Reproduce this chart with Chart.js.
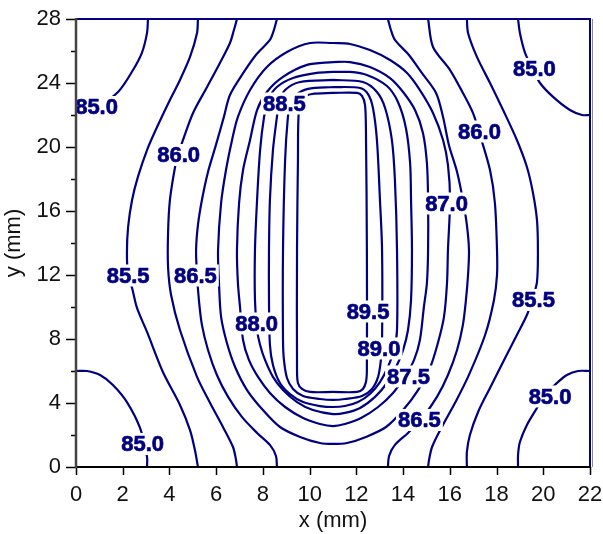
<!DOCTYPE html>
<html>
<head>
<meta charset="utf-8">
<script src="https://cdn.jsdelivr.net/npm/chart.js@4.4.0/dist/chart.umd.min.js"></script>
<style>
  html, body { margin: 0; padding: 0; background: #fff; }
</style>
</head>
<body>
<canvas id="contourChart" width="603" height="534"></canvas>
<script>
// contour lines, [x mm, y mm]
var c850a = [[3.08,28],[3.04,27.13],[2.82,25.88],[2.44,24.81],[1.80,23.44],[1.03,22.69],[0,22.31]];
var c850b = [[18.92,28],[19.0,27.13],[19.22,25.88],[19.52,24.94],[19.86,24.0],[20.42,23.13],[21.14,22.31],[21.66,22.0],[22,22.0]];
var c850c = [[0,6.0],[0.47,6.0],[1.03,5.75],[1.58,5.13],[2.18,4.06],[2.74,2.44],[3.04,0.63],[3.04,0]];
var c850d = [[22,6.0],[21.49,6.0],[21.01,5.75],[20.63,5.31],[20.07,4.5],[19.73,3.69],[19.30,2.63],[19.0,1.56],[18.92,0.75],[18.92,0]];
var c855L = [[5.22,28],[5.18,27.13],[4.88,25.63],[4.45,24.19],[4.02,22.94],[3.47,21.25],[3.04,19.81],[2.65,18.13],[2.40,16.69],[2.23,15.0],[2.18,13.38],[2.23,12.0],[2.40,11.19],[2.61,9.94],[3.04,8.44],[3.72,5.94],[4.45,3.88],[4.88,2.31],[5.09,1.06],[5.22,0]];
var c855R = [[16.73,28],[16.78,27.13],[17.16,25.63],[17.72,24.0],[18.28,22.31],[18.87,20.44],[19.30,18.75],[19.56,17.13],[19.73,15.44],[19.77,13.56],[19.73,11.56],[19.52,10.44],[19.30,9.5],[18.87,8.25],[18.28,6.56],[17.72,4.94],[17.21,3.44],[16.86,2.0],[16.73,0.94],[16.73,0]];
var c860L = [[6.89,28],[6.76,27.31],[6.59,26.5],[6.16,25.25],[5.61,23.75],[5.01,22.13],[4.58,20.44],[4.37,19.5],[4.24,18.75],[4.02,16.69],[3.94,14.63],[3.94,12.5],[4.07,10.75],[4.45,8.56],[5.18,5.63],[5.74,4.0],[6.29,2.5],[6.72,1.25],[6.85,0.44],[6.89,0]];
var c860R = [[15.07,28],[15.28,26.25],[16.01,24.81],[16.56,23.38],[16.99,22.13],[17.29,20.75],[17.72,18.56],[17.93,16.5],[18.02,13.56],[18.02,12.0],[17.89,10.44],[17.51,8.25],[16.78,5.63],[16.22,4.0],[15.66,2.5],[15.24,1.25],[15.11,0.44],[15.07,0]];
var c865L = [[8.60,28],[8.47,27.31],[8.30,26.69],[7.70,25.75],[7.19,24.69],[6.59,23.25],[6.33,21.88],[5.99,20.13],[5.65,18.44],[5.39,16.69],[5.22,15.13],[5.14,13.56],[5.18,12.0],[5.26,10.44],[5.39,8.88],[5.65,7.31],[6.03,5.75],[6.51,4.38],[7.10,3.13],[7.75,2.13],[8.30,1.38],[8.56,0.69],[8.60,0]];
var c865R = [[13.35,28],[13.48,27.31],[13.65,26.69],[14.25,25.75],[14.77,24.69],[15.41,23.38],[15.71,21.88],[15.96,20.13],[16.31,18.44],[16.56,16.69],[16.73,15.13],[16.82,13.56],[16.78,12.0],[16.69,10.44],[16.56,8.88],[16.31,7.31],[15.92,5.75],[15.45,4.38],[14.85,3.13],[14.21,2.13],[13.65,1.38],[13.40,0.69],[13.35,0]];
var c870 = [[11.0,26.5],[10.02,26.5],[9.03,25.94],[8.17,25.0],[7.45,23.56],[6.93,21.88],[6.68,20.44],[6.42,18.56],[6.21,16.5],[6.08,13.56],[6.12,11.5],[6.21,9.38],[6.46,7.75],[6.81,6.25],[7.32,4.81],[8.0,3.56],[8.73,2.5],[9.59,1.88],[10.44,1.5],[11.0,1.44],[11.60,1.5],[12.41,1.88],[13.27,2.5],[14.0,3.56],[14.64,4.81],[15.15,6.19],[15.49,7.75],[15.75,9.38],[15.88,11.5],[15.92,13.56],[16.01,16.69],[15.92,18.88],[15.71,20.44],[15.28,22.13],[14.72,23.56],[14.17,24.63],[13.44,25.44],[12.58,26.06],[11.73,26.44],[11.0,26.5]];
var c875 = [[11.0,25.31],[9.89,25.13],[8.86,24.38],[8.17,23.44],[7.75,22.31],[7.45,20.44],[7.15,18.56],[6.98,16.5],[6.89,13.56],[6.93,11.5],[7.02,10.0],[7.15,7.94],[7.40,6.69],[7.79,5.63],[8.30,4.63],[8.95,3.75],[9.72,3.06],[10.44,2.69],[11.0,2.56],[11.51,2.69],[12.20,3.06],[12.93,3.75],[13.57,4.63],[14.08,5.63],[14.47,6.69],[14.72,7.94],[14.89,10.0],[15.02,11.5],[15.07,13.56],[15.07,16.69],[15.02,19.0],[14.85,20.88],[14.51,22.31],[14.0,23.44],[13.44,24.31],[12.58,25.0],[11.73,25.31],[11.0,25.31]];
var c880 = [[11.0,24.69],[10.31,24.63],[9.29,24.31],[8.60,23.75],[8.22,22.94],[8.05,21.88],[7.88,19.81],[7.75,16.69],[7.66,13.56],[7.66,10.44],[7.75,8.56],[7.88,7.63],[8.09,6.69],[8.43,5.63],[8.86,4.81],[9.46,4.06],[10.14,3.56],[11.0,3.31],[11.51,3.38],[12.16,3.69],[12.80,4.38],[13.31,5.25],[13.70,6.25],[14.0,7.31],[14.21,8.56],[14.34,10.44],[14.38,13.56],[14.34,16.69],[14.30,19.0],[14.12,21.19],[13.78,22.81],[13.31,23.81],[12.45,24.5],[11.73,24.69],[11.0,24.69]];
var c885 = [[11.0,24.19],[9.59,24.06],[8.95,23.56],[8.69,22.81],[8.60,21.88],[8.43,19.81],[8.30,16.69],[8.26,13.56],[8.26,10.44],[8.30,7.63],[8.43,6.38],[8.73,5.25],[9.16,4.56],[9.72,4.06],[10.44,3.81],[11.0,3.75],[11.51,3.81],[12.07,4.06],[12.58,4.56],[13.01,5.31],[13.35,6.25],[13.61,7.31],[13.74,8.56],[13.74,13.56],[13.65,17.94],[13.52,20.44],[13.23,22.44],[12.88,23.44],[12.28,24.06],[11.0,24.19]];
var c890 = [[11.0,23.75],[9.93,23.63],[9.42,23.25],[9.16,22.56],[9.07,21.88],[8.95,19.19],[8.86,13.56],[8.86,7.94],[8.90,6.69],[9.03,5.56],[9.29,4.88],[9.72,4.44],[10.44,4.25],[11.0,4.19],[11.51,4.25],[12.24,4.44],[12.67,4.88],[12.93,5.63],[13.05,6.69],[13.10,7.94],[13.10,13.56],[13.01,16.69],[12.88,20.44],[12.71,22.44],[12.50,23.31],[12.16,23.69],[11.0,23.75]];
var c895 = [[11.0,23.38],[10.10,23.31],[9.72,23.06],[9.54,22.31],[9.50,19.19],[9.46,13.56],[9.46,6.06],[9.50,5.25],[9.67,4.88],[10.02,4.69],[11.0,4.69],[12.03,4.69],[12.28,4.88],[12.41,5.31],[12.45,6.06],[12.45,13.56],[12.41,21.06],[12.37,22.63],[12.24,23.19],[12.03,23.38],[11.0,23.38]];

var contours = [c850a, c850b, c850c, c850d, c855L, c855R, c860L, c860R, c865L, c865R,
  c870, c875, c880, c885, c890, c895];

// contour labels
var labelText = ['85.0', '86.0', '88.5', '85.0', '86.0', '87.0', '85.5', '86.5',
  '88.0', '89.5', '89.0', '87.5', '86.5', '85.5', '85.0', '85.0'];
var labelX = [0.88, 4.39, 8.92, 19.62, 17.27, 15.86, 2.23, 5.11, 7.73, 12.50, 12.97, 14.23, 14.70, 19.58, 20.29, 2.85];
var labelY = [22.5, 19.5, 22.72, 24.88, 20.97, 16.47, 11.97, 11.97, 8.97, 9.72, 7.41, 5.66, 2.94, 10.44, 4.41, 1.44];

var xTicks = [0, 2, 4, 6, 8, 10, 12, 14, 16, 18, 20, 22];
var yTicks = [0, 4, 8, 12, 16, 20, 24, 28];
var yMinorTicks = [2, 6, 10, 14, 18, 22, 26];

var navy = '#000080';
var fontFamily = '"Liberation Sans", Arial, sans-serif';

var datasets = contours.map(function(line) {
  return {
    data: line.map(function(p) { return {x: p[0], y: p[1]}; }),
    showLine: true,
    fill: false,
    pointRadius: 0,
    borderColor: navy,
    borderWidth: 2.2,
    tension: 0.3
  };
});

var labelsAndFrame = {
  id: 'labelsAndFrame',
  afterDatasetsDraw: function(chart) {
    var ctx = chart.ctx, xs = chart.scales.x, ys = chart.scales.y;
    ctx.save();
    ctx.font = 'bold 22px ' + fontFamily;
    ctx.textAlign = 'center';
    ctx.textBaseline = 'middle';
    ctx.lineWidth = 0.7;
    ctx.lineJoin = 'round';
    labelText.forEach(function(t, i) {
      var px = xs.getPixelForValue(labelX[i]);
      var py = ys.getPixelForValue(labelY[i]);
      var w = ctx.measureText(t).width + 4;
      ctx.fillStyle = '#fff';
      ctx.fillRect(px - w / 2, py - 11, w, 22);
      ctx.fillStyle = navy;
      ctx.strokeStyle = navy;
      ctx.fillText(t, px, py + 1);
      ctx.strokeText(t, px, py + 1);
    });
    ctx.restore();
  },
  afterDraw: function(chart) {
    var ctx = chart.ctx, a = chart.chartArea, xs = chart.scales.x, ys = chart.scales.y;
    ctx.save();
    // tick marks
    ctx.strokeStyle = '#000';
    ctx.lineWidth = 1.5;
    ctx.beginPath();
    xTicks.forEach(function(v) {
      var px = Math.round(xs.getPixelForValue(v)) + 0.5;
      ctx.moveTo(px, a.bottom);
      ctx.lineTo(px, a.bottom + 8);
    });
    yTicks.forEach(function(v) {
      var py = Math.round(ys.getPixelForValue(v)) + 0.5;
      ctx.moveTo(a.left, py);
      ctx.lineTo(a.left - 10, py);
    });
    yMinorTicks.forEach(function(v) {
      var py = Math.round(ys.getPixelForValue(v)) + 0.5;
      ctx.moveTo(a.left, py);
      ctx.lineTo(a.left - 5, py);
    });
    ctx.stroke();
    // frame
    ctx.lineWidth = 2;
    ctx.strokeStyle = navy;
    ctx.beginPath();
    ctx.moveTo(a.left, a.top);
    ctx.lineTo(a.right, a.top);
    ctx.lineTo(a.right, a.bottom);
    ctx.stroke();
    ctx.lineWidth = 1;
    ctx.strokeStyle = '#888';
    ctx.beginPath();
    ctx.moveTo(a.right + 2.5, a.top);
    ctx.lineTo(a.right + 2.5, a.bottom);
    ctx.stroke();
    ctx.lineWidth = 2;
    ctx.strokeStyle = '#000';
    ctx.beginPath();
    ctx.moveTo(a.left - 1, a.bottom);
    ctx.lineTo(a.right + 1, a.bottom);
    ctx.stroke();
    ctx.lineWidth = 2.5;
    ctx.strokeStyle = '#444';
    ctx.beginPath();
    ctx.moveTo(a.left, a.top - 1);
    ctx.lineTo(a.left, a.bottom + 1);
    ctx.stroke();
    ctx.restore();
  }
};

var ctx = document.getElementById('contourChart').getContext('2d');
var chart = new Chart(ctx, {
  type: 'scatter',
  data: { datasets: datasets },
  options: {
    responsive: false,
    animation: false,
    events: [],
    layout: { padding: { top: 19, right: 13, left: 0, bottom: 0 } },
    plugins: { legend: { display: false }, tooltip: { enabled: false } },
    scales: {
      x: {
        type: 'linear',
        min: 0,
        max: 22,
        afterBuildTicks: function(axis) {
          axis.ticks = xTicks.map(function(v) { return {value: v}; });
        },
        ticks: { autoSkip: false, maxRotation: 0, padding: 15, color: '#111',
          font: { family: fontFamily, size: 22 } },
        grid: { display: false, drawTicks: false },
        border: { display: false },
        title: { display: true, text: 'x (mm)', color: '#111', padding: { top: 0, bottom: 0 },
          font: { family: fontFamily, size: 22 } },
        afterFit: function(axis) {
          axis.height = 67;
          axis.paddingLeft = 0;
          axis.paddingRight = 0;
        }
      },
      y: {
        type: 'linear',
        min: 0,
        max: 28,
        afterBuildTicks: function(axis) {
          axis.ticks = yTicks.map(function(v) { return {value: v}; });
        },
        ticks: { autoSkip: false, padding: 15, color: '#111',
          font: { family: fontFamily, size: 22 } },
        grid: { display: false, drawTicks: false },
        border: { display: false },
        title: { display: true, text: 'y (mm)', color: '#111', padding: { top: 1, bottom: 0 },
          font: { family: fontFamily, size: 22 } },
        afterFit: function(axis) {
          axis.width = 76;
          axis.paddingTop = 0;
          axis.paddingBottom = 0;
        }
      }
    }
  },
  plugins: [labelsAndFrame]
});
</script>
</body>
</html>
